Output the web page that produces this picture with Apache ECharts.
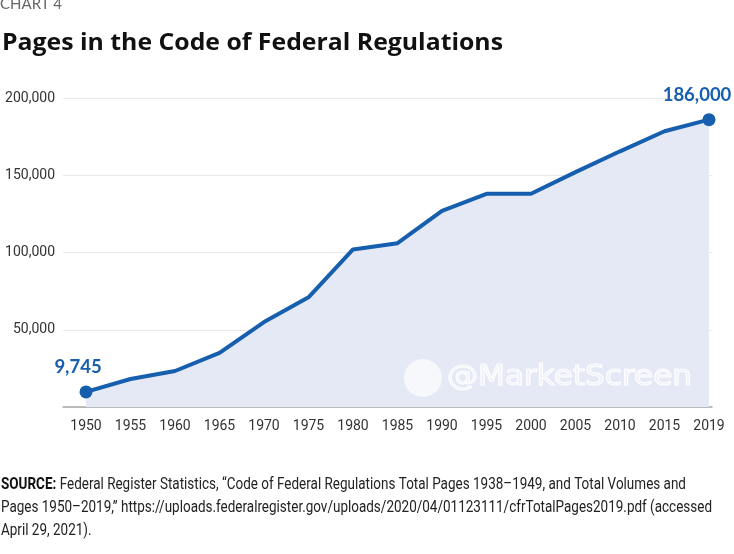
<!DOCTYPE html>
<html>
<head>
<meta charset="utf-8">
<script src="https://cdn.jsdelivr.net/npm/echarts@6/dist/echarts.min.js"></script>
<style>
  html, body { margin: 0; padding: 0; background: #ffffff; }
  #chart { width: 734px; height: 554px; }
</style>
</head>
<body>
<div id="chart"></div>
<script>
const years = ['1950','1955','1960','1965','1970','1975','1980','1985','1990','1995','2000','2005','2010','2015','2019'];
const pages = [9745, 18100, 23300, 35000, 55000, 71000, 102000, 106000, 127000, 138000, 138000, 152000, 165500, 178500, 186000];
const yTicks = [0, 50000, 100000, 150000, 200000];
const endLabels = ['9,745', '186,000'];
const titleText = 'Pages in the Code of Federal Regulations';
const kickerText = 'CHART 4';
const sourceBold = 'SOURCE:';
const sourceLines = [
  ' Federal Register Statistics, \u201cCode of Federal Regulations Total Pages 1938\u20131949, and Total Volumes and',
  'Pages 1950\u20132019,\u201d https://uploads.federalregister.gov/uploads/2020/04/01123111/cfrTotalPages2019.pdf (accessed',
  'April 29, 2021).'
];
const watermarkText = '@MarketScreen';

const BLUE = '#165fae';
const last = pages.length - 1;

const ctx = document.createElement('canvas').getContext('2d');
function measure(font, text) { ctx.font = font; return ctx.measureText(text).width; }

const titleFont = 'bold 23px "Open Sans"';
const titleScale = 501 / measure(titleFont, titleText);

const srcFont = '17px Roboto';
const srcBoldFont = 'bold 17px Roboto';
const srcW1 = measure(srcBoldFont, sourceBold) + measure(srcFont, sourceLines[0]);
const srcW2 = measure(srcFont, sourceLines[1]);
const srcScale = Math.min(713 / srcW1, 711 / srcW2);

const wmFont = '28px "DejaVu Sans"';
const wmScale = 245 / measure(wmFont, watermarkText);

const seriesData = pages.map((v, i) => {
  if (i === 0) {
    return { value: v, label: { show: true, formatter: endLabels[0], position: 'top', offset: [-8, -4] } };
  }
  if (i === last) {
    return { value: v, label: { show: true, formatter: endLabels[1], position: 'top', offset: [-12, -4] } };
  }
  return v;
});

const chart = echarts.init(document.getElementById('chart'), null, { renderer: 'canvas' });

const option = {
  backgroundColor: '#ffffff',
  animation: false,
  grid: [
    { left: 63, right: 22, top: 98, bottom: 147, containLabel: false },
    { left: 86, right: 25, top: 98, bottom: 147, containLabel: false }
  ],
  xAxis: [
    {
      gridIndex: 0, type: 'category', data: years, boundaryGap: false,
      axisLine: { show: true, lineStyle: { color: '#a9a9a9', width: 1.5 } },
      axisTick: { show: false }, axisLabel: { show: false }, splitLine: { show: false }
    },
    {
      gridIndex: 1, type: 'category', data: years, boundaryGap: false,
      axisLine: { show: false }, axisTick: { show: false },
      axisLabel: { show: true, color: '#333333', fontSize: 14, fontFamily: 'Roboto', margin: 12 },
      splitLine: { show: false }
    }
  ],
  yAxis: [
    {
      gridIndex: 0, type: 'value', min: yTicks[0], max: yTicks[yTicks.length - 1], interval: 50000,
      axisLine: { show: false }, axisTick: { show: false },
      axisLabel: {
        show: true, color: '#333333', fontSize: 14, fontFamily: 'Roboto', margin: 8,
        formatter: v => (v === 0 ? '' : v.toLocaleString('en-US'))
      },
      splitLine: { show: true, lineStyle: { color: '#e8e8e8', width: 1 } }
    },
    {
      gridIndex: 1, type: 'value', min: yTicks[0], max: yTicks[yTicks.length - 1], interval: 50000,
      axisLine: { show: false }, axisTick: { show: false }, axisLabel: { show: false },
      splitLine: { show: false }
    }
  ],
  series: [
    {
      type: 'line', xAxisIndex: 1, yAxisIndex: 1,
      data: seriesData,
      symbol: 'circle',
      symbolSize: (val, params) => (params.dataIndex === 0 || params.dataIndex === last ? 13 : 0),
      showAllSymbol: true,
      lineStyle: { color: BLUE, width: 4 },
      itemStyle: { color: BLUE },
      areaStyle: { color: '#e5e8f5', opacity: 1 },
      label: { show: false, color: BLUE, fontSize: 18.5, fontWeight: 'bold', fontFamily: 'Lato' },
      emphasis: { disabled: true },
      z: 3
    }
  ],
  graphic: [
    {
      type: 'text', x: 0, y: -3,
      style: { text: kickerText, fill: '#666666', font: '15px Lato' }
    },
    {
      type: 'text', x: 2, y: 31.5, scaleX: titleScale,
      style: { text: titleText, fill: '#111111', font: titleFont }
    },
    {
      type: 'circle', shape: { cx: 423, cy: 378, r: 19 }, z: 10,
      style: { fill: 'rgba(255,255,255,0.7)' }
    },
    {
      type: 'text', x: 447, y: 364, scaleX: wmScale, z: 10,
      style: { text: watermarkText, fill: 'rgba(255,255,255,0.35)', stroke: 'rgba(255,255,255,0.95)', lineWidth: 1.2, font: wmFont }
    },
    {
      type: 'text', x: 1, y: 473.5, scaleX: srcScale,
      style: {
        text: '{b|' + sourceBold + '}' + sourceLines.join('\n'),
        fill: '#222222',
        font: srcFont,
        lineHeight: 23,
        rich: {
          b: { fill: '#111111', font: srcBoldFont, lineHeight: 23 }
        }
      }
    }
  ]
};

chart.setOption(option);
</script>
</body>
</html>
